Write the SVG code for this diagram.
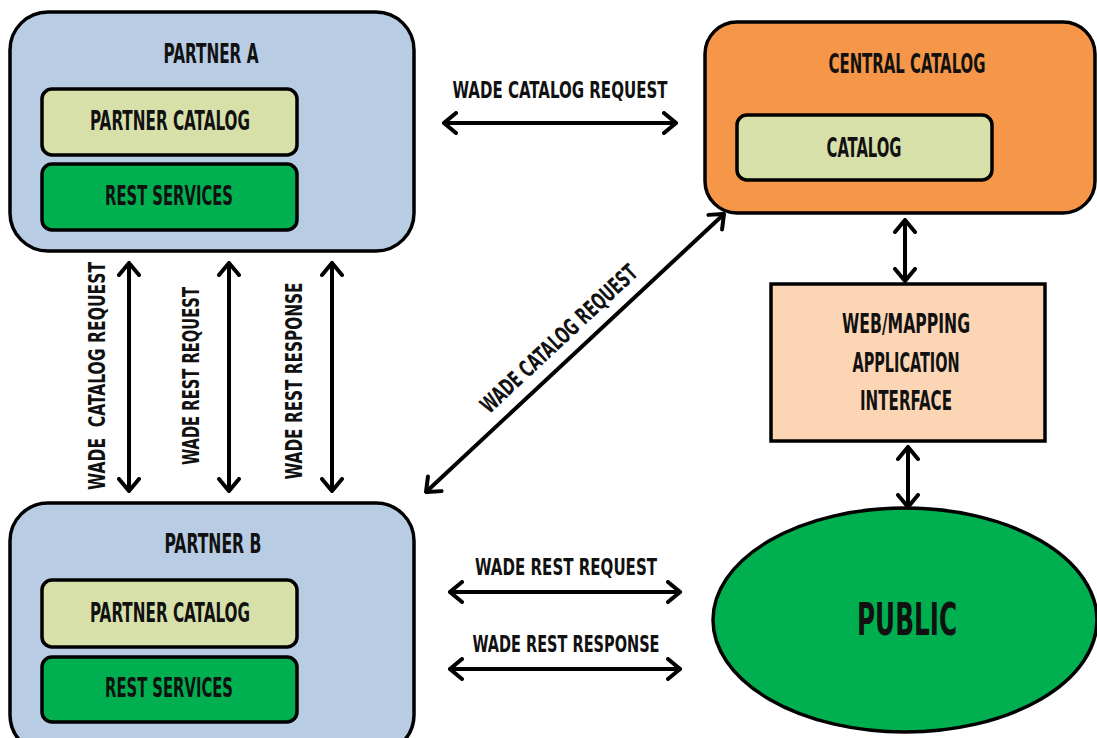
<svg xmlns="http://www.w3.org/2000/svg" width="1097" height="738" viewBox="0 0 1097 738">
<style>
text{font-family:"Liberation Sans Narrow","DejaVu Sans Condensed","Liberation Sans",sans-serif;font-weight:bold;fill:#111;text-anchor:middle}
.box{stroke:#000;stroke-width:3.5}
.blue{fill:#b8cce4}
.olive{fill:#d8e0aa}
.green{fill:#00af50}
.orange{fill:#f69648}
.peach{fill:#fcd5b5}
.lbl{font-size:27px}
.al{font-size:23px}
.conn line{stroke:#000;stroke-width:4;marker-start:url(#ah);marker-end:url(#ah)}
</style>
<defs>
<marker id="ah" viewBox="0 0 16 24" refX="14" refY="12" markerWidth="16" markerHeight="24" markerUnits="userSpaceOnUse" orient="auto-start-reverse">
<path d="M2,2 L14,12 L2,22" fill="none" stroke="#000" stroke-width="4" stroke-linecap="round" stroke-linejoin="miter"/>
</marker>
</defs>
<rect width="1097" height="738" fill="#fff"/>
<g id="partner-a">
<rect class="box blue" x="10" y="12" width="404" height="239" rx="38"/>
<text class="lbl" x="211" y="63" textLength="95" lengthAdjust="spacingAndGlyphs">PARTNER A</text>
<rect class="box olive" x="42" y="89" width="255" height="66" rx="10"/>
<text class="lbl" x="170" y="130" textLength="160" lengthAdjust="spacingAndGlyphs">PARTNER CATALOG</text>
<rect class="box green" x="42" y="164" width="255" height="66" rx="10"/>
<text class="lbl" x="169" y="205" textLength="128" lengthAdjust="spacingAndGlyphs">REST SERVICES</text>
</g>
<g id="partner-b">
<rect class="box blue" x="10" y="503" width="404" height="250" rx="38"/>
<text class="lbl" x="213" y="553" textLength="97" lengthAdjust="spacingAndGlyphs">PARTNER B</text>
<rect class="box olive" x="42" y="580" width="255" height="67" rx="10"/>
<text class="lbl" x="170" y="622" textLength="160" lengthAdjust="spacingAndGlyphs">PARTNER CATALOG</text>
<rect class="box green" x="42" y="657" width="255" height="65" rx="10"/>
<text class="lbl" x="169" y="697" textLength="128" lengthAdjust="spacingAndGlyphs">REST SERVICES</text>
</g>
<g id="central-catalog">
<rect class="box orange" x="705" y="22" width="390" height="191" rx="32"/>
<text class="lbl" x="907" y="73" textLength="157" lengthAdjust="spacingAndGlyphs">CENTRAL CATALOG</text>
<rect class="box olive" x="737" y="115" width="255" height="65" rx="10"/>
<text class="lbl" x="864" y="157" textLength="75" lengthAdjust="spacingAndGlyphs">CATALOG</text>
</g>
<g id="web-mapping">
<rect class="box peach" x="771" y="284" width="274" height="157"/>
<text class="lbl" x="906" y="333" textLength="128" lengthAdjust="spacingAndGlyphs">WEB/MAPPING</text>
<text class="lbl" x="906" y="372" textLength="107" lengthAdjust="spacingAndGlyphs">APPLICATION</text>
<text class="lbl" x="906" y="410" textLength="92" lengthAdjust="spacingAndGlyphs">INTERFACE</text>
</g>
<g id="public">
<ellipse class="box green" cx="905" cy="620" rx="192" ry="112"/>
<text x="907" y="635" style="font-size:44px" textLength="100" lengthAdjust="spacingAndGlyphs">PUBLIC</text>
</g>
<g id="connectors" class="conn">
<line x1="444" y1="123" x2="676" y2="123"/>
<line x1="450" y1="592" x2="680" y2="592"/>
<line x1="450" y1="669" x2="680" y2="669"/>
<line x1="129" y1="263" x2="129" y2="491"/>
<line x1="229" y1="263" x2="229" y2="491"/>
<line x1="332" y1="263" x2="332" y2="491"/>
<line x1="426" y1="492" x2="724" y2="214"/>
<line x1="905" y1="220" x2="905" y2="281"/>
<line x1="908" y1="447" x2="908" y2="507"/>
</g>
<g id="connector-labels">
<text class="al" x="560" y="98" textLength="215" lengthAdjust="spacingAndGlyphs">WADE CATALOG REQUEST</text>
<text class="al" x="566" y="575" textLength="182" lengthAdjust="spacingAndGlyphs">WADE REST REQUEST</text>
<text class="al" x="566" y="652" textLength="187" lengthAdjust="spacingAndGlyphs">WADE REST RESPONSE</text>
<text class="al" transform="translate(105,376) rotate(-90)" x="0" y="0" textLength="228" lengthAdjust="spacingAndGlyphs" xml:space="preserve">WADE  CATALOG REQUEST</text>
<text class="al" transform="translate(199,376) rotate(-90)" x="0" y="0" textLength="178" lengthAdjust="spacingAndGlyphs">WADE REST REQUEST</text>
<text class="al" transform="translate(302,381) rotate(-90)" x="0" y="0" textLength="197" lengthAdjust="spacingAndGlyphs">WADE REST RESPONSE</text>
<text class="al" transform="translate(558,338) rotate(-43)" x="0" y="9" textLength="205" lengthAdjust="spacingAndGlyphs">WADE CATALOG REQUEST</text>
</g>
</svg>
